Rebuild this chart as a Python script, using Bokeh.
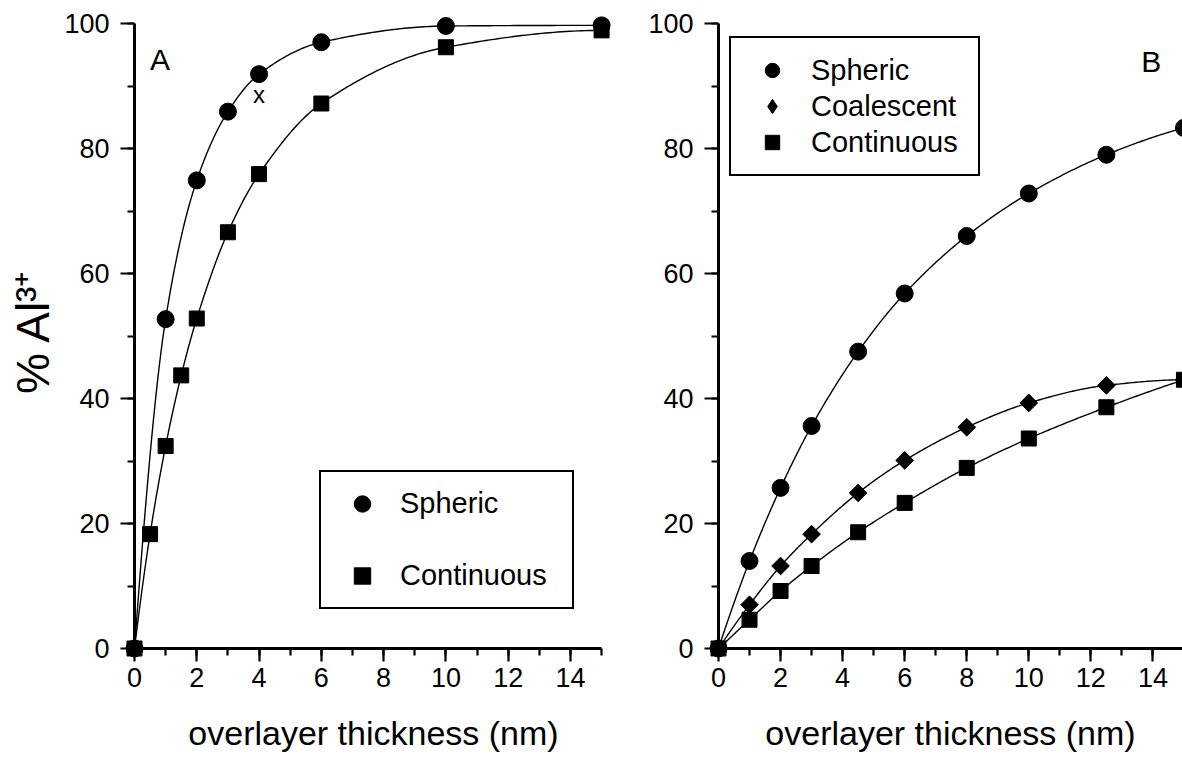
import numpy as np
from bokeh.plotting import figure
from bokeh.models import Range1d, SingleIntervalTicker, Label, Legend, LegendItem
from bokeh.core.properties import value
from bokeh.layouts import row
from bokeh.embed import file_html
from bokeh.resources import INLINE

FONT = "Liberation Sans"

# ---------------- data ----------------
# Panel A
a_x_spheric = [0, 1, 2, 3, 4, 6, 10, 15]
a_spheric = [0, 52.7, 74.9, 85.9, 91.9, 97.0, 99.6, 99.7]
a_x_continuous = [0, 0.5, 1, 1.5, 2, 3, 4, 6, 10, 15]
a_continuous = [0, 18.3, 32.4, 43.7, 52.8, 66.6, 75.9, 87.2, 96.2, 98.9]
a_outlier_x = [4]
a_outlier_y = [88.6]

# Panel B
b_x = [0, 1, 2, 3, 4.5, 6, 8, 10, 12.5, 15]
b_spheric = [0, 14.0, 25.7, 35.6, 47.5, 56.8, 66.0, 72.8, 79.0, 83.3]
b_coalescent = [0, 7.0, 13.2, 18.3, 24.9, 30.1, 35.4, 39.3, 42.1, 43.0]
b_continuous = [0, 4.6, 9.2, 13.2, 18.6, 23.3, 28.9, 33.6, 38.6, 43.0]

labels_a = ["Spheric", "Continuous"]
labels_b = ["Spheric", "Coalescent", "Continuous"]
x_title = "overlayer thickness (nm)"
y_title = "% Al\u00b3\u207a"


def smooth(xs, ys, n=40):
    """Monotone cubic (PCHIP) curve through the data points, for drawing the line."""
    x = np.asarray(xs, float)
    y = np.asarray(ys, float)
    h = np.diff(x)
    d = np.diff(y) / h
    m = np.zeros_like(x)
    for k in range(1, len(x) - 1):
        if d[k - 1] * d[k] <= 0:
            m[k] = 0.0
        else:
            w1 = 2 * h[k] + h[k - 1]
            w2 = h[k] + 2 * h[k - 1]
            m[k] = (w1 + w2) / (w1 / d[k - 1] + w2 / d[k])

    def end(h0, h1, d0, d1):
        v = ((2 * h0 + h1) * d0 - h0 * d1) / (h0 + h1)
        if np.sign(v) != np.sign(d0):
            return 0.0
        if np.sign(d0) != np.sign(d1) and abs(v) > abs(3 * d0):
            return 3 * d0
        return v

    m[0] = end(h[0], h[1], d[0], d[1])
    m[-1] = end(h[-1], h[-2], d[-1], d[-2])
    ox, oy = [], []
    t = np.linspace(0, 1, n)
    h00 = 2 * t**3 - 3 * t**2 + 1
    h10 = t**3 - 2 * t**2 + t
    h01 = -2 * t**3 + 3 * t**2
    h11 = t**3 - t**2
    for k in range(len(h)):
        yy = h00 * y[k] + h10 * h[k] * m[k] + h01 * y[k + 1] + h11 * h[k] * m[k + 1]
        ox.extend((x[k] + t * h[k]).tolist())
        oy.extend(yy.tolist())
    return ox, oy


def make_fig(width, left, right, x_end):
    p = figure(width=width, height=759,
               x_range=Range1d(0, x_end), y_range=Range1d(0, 101.6),
               output_backend="svg", toolbar_location=None,
               min_border_left=left, min_border_right=right,
               min_border_top=13, min_border_bottom=111)
    p.outline_line_color = None
    p.grid.visible = False
    p.background_fill_color = "white"
    p.border_fill_color = "white"
    p.xaxis.ticker = SingleIntervalTicker(interval=2, num_minor_ticks=2)
    p.yaxis.ticker = SingleIntervalTicker(interval=20, num_minor_ticks=2)
    p.xaxis.bounds = (0, 15)
    p.yaxis.bounds = (0, 100)
    for ax in p.axis:
        ax.axis_line_width = 3
        ax.axis_line_color = "black"
        ax.major_tick_line_width = 2.2
        ax.minor_tick_line_width = 2.2
        ax.major_tick_line_color = "black"
        ax.minor_tick_line_color = "black"
        ax.major_tick_in = 0
        ax.minor_tick_in = 0
        ax.minor_tick_out = 7
        ax.major_label_text_font = FONT
        ax.major_label_text_font_size = "27px"
        ax.major_label_text_color = "black"
        ax.axis_label_text_font = FONT
        ax.axis_label_text_font_style = "normal"
        ax.axis_label_text_color = "black"
    p.xaxis.major_tick_out = 13
    p.yaxis.major_tick_out = 14
    p.xaxis.major_label_standoff = 6
    p.yaxis.major_label_standoff = 11
    p.xaxis.axis_label = x_title
    p.xaxis.axis_label_text_font_size = "34px"
    p.xaxis.axis_label_standoff = 24
    return p


def series(p, xs, ys, marker, size, angle=0.0):
    lx, ly = smooth(xs, ys)
    p.line(lx, ly, line_color="black", line_width=1.4)
    return p.scatter(xs, ys, marker=marker, size=size, angle=angle,
                     fill_color="black", line_color="black", level="overlay")


def panel_letter(p, x, y, text):
    p.add_layout(Label(x=x, y=y, text=text, text_font=FONT, text_font_size="30px",
                       text_align="left", text_baseline="middle", text_color="black"))


def legend(items, location, padding, spacing, gw, gh, lw, standoff):
    return Legend(items=items, location=location, margin=0, padding=padding,
                  spacing=spacing, glyph_width=gw, glyph_height=gh, label_height=gh,
                  label_width=lw, label_standoff=standoff, label_text_font=FONT,
                  label_text_font_size="29px", label_text_color="black",
                  border_line_color="black", border_line_width=2, border_line_alpha=1.0,
                  background_fill_color="white", background_fill_alpha=1.0)


# ---------------- panel A ----------------
pA = make_fig(638, 134, 26, 15.35)
pA.yaxis.axis_label = y_title
pA.yaxis.axis_label_text_font_size = "46px"
pA.yaxis.axis_label_standoff = 2
rA1 = series(pA, a_x_spheric, a_spheric, "circle", 17)
rA2 = series(pA, a_x_continuous, a_continuous, "square", 15)
pA.text(a_outlier_x, a_outlier_y, text=["x"], text_font=value(FONT),
        text_font_size="24px", text_align="center", text_baseline="middle",
        text_color="black")
panel_letter(pA, 0.5, 94.2, "A")
legA = legend([LegendItem(label=labels_a[0], renderers=[rA1]),
               LegendItem(label=labels_a[1], renderers=[rA2])],
              (185, 39), 11, 31, 60, 41, 161, 8)
pA.add_layout(legA)

# ---------------- panel B ----------------
pB = make_fig(544, 80, 0, 464 / 31.03)
rB1 = series(pB, b_x, b_spheric, "circle", 17)
# upright diamond used for the legend key, hidden under the rotated squares
rB2_key = pB.scatter(b_x, b_coalescent, marker="diamond", size=16,
                     fill_color="black", line_color="black", level="overlay")
rB2 = series(pB, b_x, b_coalescent, "square", 12.5, angle=np.pi / 4)
rB3 = series(pB, b_x, b_continuous, "square", 15)
panel_letter(pB, 13.62, 93.9, "B")
legB = legend([LegendItem(label=labels_b[0], renderers=[rB1]),
               LegendItem(label=labels_b[1], renderers=[rB2_key]),
               LegendItem(label=labels_b[2], renderers=[rB3])],
              (11, 472), 14, 0, 54, 36, 153, 12)
pB.add_layout(legB)

layout = row(pA, pB)
open("out.html", "w").write(file_html(layout, INLINE))
